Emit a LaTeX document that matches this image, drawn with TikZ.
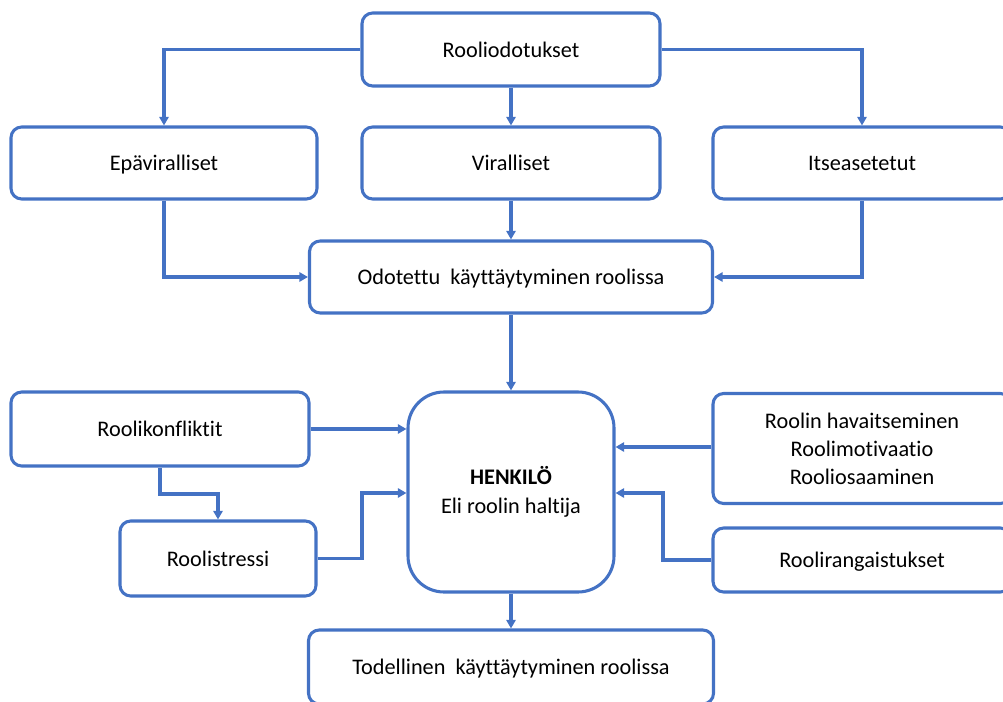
\documentclass[tikz,border=0pt]{standalone}
\usepackage{fontspec}
\setmainfont{Carlito}[Ligatures=NoCommon]
\usetikzlibrary{arrows.meta}
\definecolor{boxblue}{HTML}{4472C4}
\begin{document}
\begin{tikzpicture}[x=0.75pt,y=-0.75pt,
  box/.style={draw=boxblue,line width=2.3pt,fill=white,rounded corners=8pt,inner sep=0pt,
    align=center,font=\fontsize{16.7pt}{21pt}\selectfont,text=black},
  one/.style={text height=12.5pt,text depth=0.7pt},
  arr/.style={draw=boxblue,line width=2.3pt,-{Triangle[length=6.5pt,width=7pt]}}]
\useasboundingbox (0,0) rectangle (1003,702);
% nodes
\node[box,one,minimum width=298*0.75pt,minimum height=73*0.75pt] (rood) at (511,49.5) {Rooliodotukset};
\node[box,one,minimum width=306*0.75pt,minimum height=72*0.75pt] (epav) at (164,163) {Epäviralliset};
\node[box,one,minimum width=298*0.75pt,minimum height=72*0.75pt] (vir) at (511,163) {Viralliset};
\node[box,one,minimum width=298*0.75pt,minimum height=72*0.75pt] (itse) at (862,163) {Itseasetetut};
\node[box,one,minimum width=403*0.75pt,minimum height=72*0.75pt] (odo) at (511,277) {Odotettu\ \ käyttäytyminen roolissa};
\node[box,one,minimum width=298*0.75pt,minimum height=74*0.75pt] (konf) at (160,429) {Roolikonfliktit};
\node[box,one,minimum width=196*0.75pt,minimum height=75*0.75pt] (stress) at (218,558.5) {Roolistressi};
\node[box,rounded corners=27pt,minimum width=206*0.75pt,minimum height=200*0.75pt,
  font=\fontsize{16.7pt}{22pt}\selectfont] (henk) at (511,492) {\textbf{HENKILÖ}\\Eli roolin haltija};
\node[box,minimum width=298*0.75pt,minimum height=110*0.75pt] (hav) at (862,448.5)
  {Roolin\ havaitseminen\\Roolimotivaatio\\Rooliosaaminen};
\node[box,one,minimum width=298*0.75pt,minimum height=64*0.75pt] (rang) at (862,560) {Roolirangaistukset};
\node[box,one,minimum width=405*0.75pt,minimum height=74*0.75pt] (tod) at (511,667) {Todellinen\ \ käyttäytyminen roolissa};
% helper coordinates
\coordinate (kbend) at (218,494);
\coordinate (sbend) at (362,493);
\coordinate (rbend) at (663,493);
% connectors
\draw[arr] (rood.west) -| (epav.north);
\draw[arr] (rood.east) -| (itse.north);
\draw[arr] (rood.south) -- (vir.north);
\draw[arr] (vir.south) -- (odo.north);
\draw[arr] (epav.south) |- (odo.west);
\draw[arr] (itse.south) |- (odo.east);
\draw[arr] (odo.south) -- (henk.north);
\draw[arr] (henk.south) -- (tod.north);
\draw[arr] (konf.east) -- (konf.east -| henk.west);
\draw[arr] (konf.south) |- (kbend) -- (stress.north);
\draw[arr] (stress.east) -| (sbend) -- (sbend -| henk.west);
\draw[arr] (hav.west |- 0,447) -- (henk.east |- 0,447);
\draw[arr] (rang.west) -| (rbend) -- (rbend -| henk.east);
\end{tikzpicture}
\end{document}
